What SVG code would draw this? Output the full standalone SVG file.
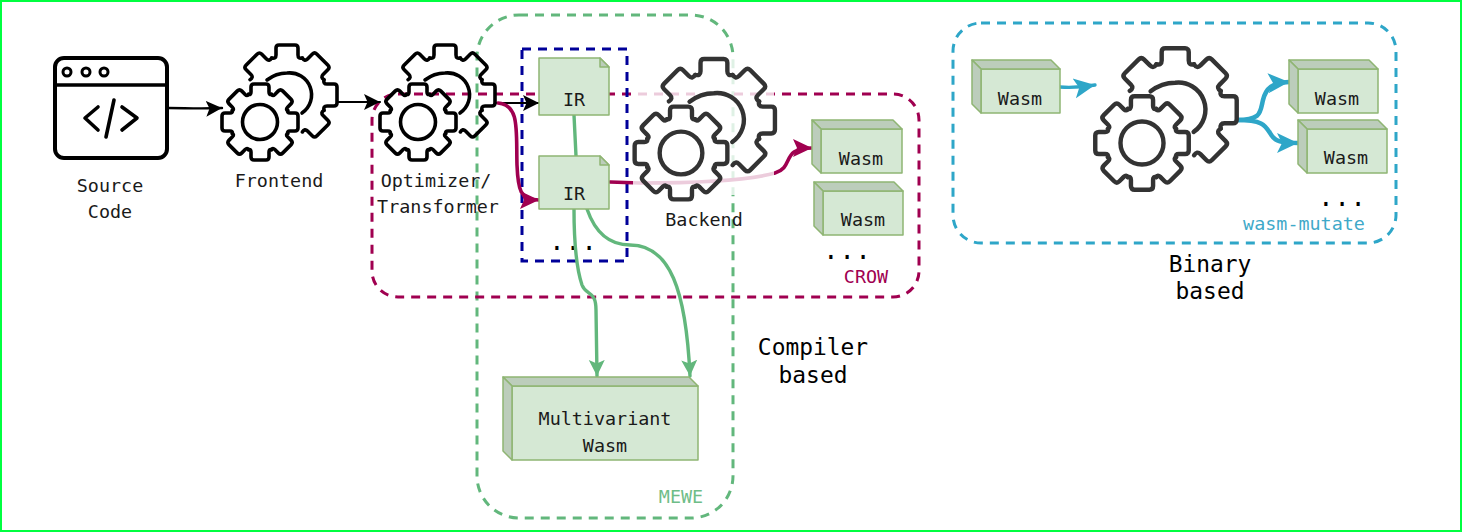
<svg xmlns="http://www.w3.org/2000/svg" xmlns:xlink="http://www.w3.org/1999/xlink" width="1462" height="532" viewBox="0 0 1462 532">
<style>
text{font-family:"DejaVu Sans Mono","Liberation Mono",monospace;font-size:18.4px;text-anchor:middle;fill:#1a1a1a}
.big{font-size:22.9px;fill:#000}
.dots{font-size:27px;font-family:"Liberation Mono",monospace;fill:#000}
.box{fill:none;stroke-width:3;stroke-dasharray:9 7}
.cn{fill:none;stroke-linecap:round}
.gear{fill:none;stroke-width:3.6;stroke-linecap:round;stroke-linejoin:round}
.face{fill:#d5e8d4;stroke:#8fb573;stroke-width:1.5;stroke-linejoin:round}
.dark{fill:#bccdbb;stroke:#8fb573;stroke-width:1.5;stroke-linejoin:round}
</style>
<defs>
<path id="ts" d="M-11.5,-27.7Q-9,-27-9,-30L-9,-35Q-9,-38-6,-38L6,-38Q9,-38 9,-35L9,-30Q9,-27 11.5,-27.7"/>
<path id="tl" d="M-15.3,-37Q-11,-36-11,-40L-11,-47Q-11,-50-8,-50L8,-50Q11,-50 11,-47L11,-40Q11,-36 15.3,-37"/>
<g id="gearIcon">
<use xlink:href="#ts"/><use xlink:href="#ts" transform="rotate(45)"/><use xlink:href="#ts" transform="rotate(90)"/><use xlink:href="#ts" transform="rotate(135)"/><use xlink:href="#ts" transform="rotate(180)"/><use xlink:href="#ts" transform="rotate(225)"/><use xlink:href="#ts" transform="rotate(270)"/><use xlink:href="#ts" transform="rotate(315)"/>
<circle r="17.5"/>
<g transform="translate(27,-27)">
<use xlink:href="#tl" transform="rotate(-45)"/><use xlink:href="#tl"/><use xlink:href="#tl" transform="rotate(45)"/><use xlink:href="#tl" transform="rotate(90)"/><use xlink:href="#tl" transform="rotate(135)"/>
<path d="M-20,-15Q-11,-22 0,-22A22,22 0 0 1 15,18"/>
</g>
</g>
<marker id="aK" markerUnits="userSpaceOnUse" markerWidth="20" markerHeight="20" refX="16" refY="10" orient="auto"><path d="M0,2L16,10L0,18L3.5,10Z" fill="#000"/></marker>
<marker id="aR" markerUnits="userSpaceOnUse" markerWidth="22" markerHeight="22" refX="19" refY="11" orient="auto"><path d="M0,2L19,11L0,20L4,11Z" fill="#a00050"/></marker>
<marker id="aG" markerUnits="userSpaceOnUse" markerWidth="20" markerHeight="20" refX="16" refY="10" orient="auto"><path d="M0,2L16,10L0,18L3.5,10Z" fill="#62b77c"/></marker>
<marker id="aT" markerUnits="userSpaceOnUse" markerWidth="24" markerHeight="24" refX="21" refY="12" orient="auto"><path d="M0,2L21,12L0,22L5,12Z" fill="#2ea6c8"/></marker>
</defs>
<rect width="1462" height="532" fill="#fff"/>
<rect x="1" y="1" width="1460" height="530" fill="none" stroke="#00ff40" stroke-width="2"/>

<g id="mewe-group"><rect class="box" x="477" y="15" width="256" height="503" rx="42" stroke="#62b77c"/><text x="681" y="503" style="fill:#6fbd88">MEWE</text></g>
<g id="crow-group"><rect class="box" x="372" y="94" width="547" height="203" rx="26" stroke="#a00050"/><text x="866" y="283" style="fill:#a00050">CROW</text></g>
<g id="ir-group"><rect class="box" x="522" y="49" width="105" height="212" stroke="#000099"/><text class="dots" x="573" y="250">...</text></g>
<g id="mutate-group"><rect class="box" x="953" y="23" width="443" height="220" rx="28" stroke="#2ea6c8"/><text x="1304" y="230" style="fill:#3fa9c9">wasm-mutate</text><text class="dots" x="1342" y="206">...</text></g>

<g id="connectors">
<path class="cn" stroke="#000" stroke-width="2.4" marker-end="url(#aK)" d="M168,108C185,108 200,109 222,108"/>
<path class="cn" stroke="#000" stroke-width="2.2" marker-end="url(#aK)" d="M337,102L380,102"/>
<path class="cn" stroke="#000" stroke-width="2.2" marker-end="url(#aK)" d="M497,103L539,103"/>
<path class="cn" stroke="#a00050" stroke-width="3.6" marker-end="url(#aR)" d="M498,103C520,105 516,130 517,165C518,190 520,200 539,200"/>
<path class="cn" stroke="#62b77c" stroke-width="3.4" d="M574,115L576,156L574,209C574,240 577,270 582,285C586,296 596,290 596,310L597,376" marker-end="url(#aG)"/>
<path class="cn" stroke="#62b77c" stroke-width="3.4" marker-end="url(#aG)" d="M587,209C596,235 612,245 630,245C670,245 686,290 690,376"/>
<path class="cn" stroke="#a00050" stroke-width="3.6" marker-end="url(#aR)" d="M610,182L640,183C700,183 750,180 775,173C795,167 780,148 812,148"/>
<path class="cn" stroke="#2ea6c8" stroke-width="3.4" marker-end="url(#aT)" d="M1060,87C1072,88 1083,87 1095,85"/>
<path class="cn" stroke="#2ea6c8" stroke-width="4.6" marker-end="url(#aT)" d="M1237,120C1262,120 1260,112 1263,100C1266,88 1272,83 1289,82"/>
<path class="cn" stroke="#2ea6c8" stroke-width="4.6" marker-end="url(#aT)" d="M1237,120C1262,120 1265,125 1270,133C1275,142 1282,143 1298,143"/>
</g>

<g id="source-code">
<rect x="55" y="58" width="112" height="100" rx="9" fill="none" stroke="#000" stroke-width="4"/>
<g fill="none" stroke="#000" stroke-linecap="round" stroke-linejoin="round"><path stroke-width="3.6" d="M55,85L167,85M98,107L85,118L98,130M122,107L137,118L122,130M114,100L106,137"/><circle cx="67" cy="72" r="4" stroke-width="3"/><circle cx="86" cy="72" r="4" stroke-width="3"/><circle cx="104" cy="72" r="4" stroke-width="3"/></g>
<text x="110" y="192">Source</text><text x="110" y="218">Code</text>
</g>
<g id="frontend"><use xlink:href="#gearIcon" class="gear" stroke="#000" transform="translate(260,122)"/><text x="279" y="187">Frontend</text></g>
<g id="optimizer"><use xlink:href="#gearIcon" class="gear" stroke="#000" transform="translate(418,122)"/><text x="436" y="187">Optimizer/</text><text x="438" y="213">Transformer</text></g>
<g id="ir-1"><path class="face" d="M539,58H600L609,67V115H539Z"/><path class="dark" d="M600,58L609,67H600Z"/><text x="574" y="106">IR</text></g>
<g id="ir-2"><path class="face" d="M539,156H600L609,165V209H539Z"/><path class="dark" d="M600,156L609,165H600Z"/><text x="574" y="200">IR</text></g>
<g id="backend"><rect x="633" y="58" width="141" height="137" fill="#fff" opacity=".8"/><use xlink:href="#gearIcon" class="gear" stroke="#333" transform="translate(681,153) scale(1.22)"/><text x="704" y="226">Backend</text></g>
<g id="crow-wasm-1"><path class="face" d="M821,129H902V173H821Z"/><path class="dark" d="M812,120H893L902,129H821Z"/><path class="dark" d="M812,120L821,129V173L812,164Z"/><text x="861" y="165">Wasm</text></g>
<g id="crow-wasm-2"><path class="face" d="M823,191H903V235H823Z"/><path class="dark" d="M814,182H894L903,191H823Z"/><path class="dark" d="M814,182L823,191V235L814,226Z"/><text x="863" y="226">Wasm</text></g>
<text class="dots" x="847" y="259">...</text>
<g id="multivariant"><path class="face" d="M512,386H698V460H512Z"/><path class="dark" d="M503,377H689L698,386H512Z"/><path class="dark" d="M503,377L512,386V460L503,451Z"/><text x="605" y="425">Multivariant</text><text x="605" y="452">Wasm</text></g>
<g id="mutate-in"><path class="face" d="M981,69H1060V113H981Z"/><path class="dark" d="M972,60H1051L1060,69H981Z"/><path class="dark" d="M972,60L981,69V113L972,104Z"/><text x="1020" y="105">Wasm</text></g>
<g id="mutate-gear"><use xlink:href="#gearIcon" class="gear" stroke="#333" transform="translate(1142,143) scale(1.23)"/></g>
<g id="mutate-out-1"><path class="face" d="M1298,69H1378V113H1298Z"/><path class="dark" d="M1289,60H1369L1378,69H1298Z"/><path class="dark" d="M1289,60L1298,69V113L1289,104Z"/><text x="1337" y="105">Wasm</text></g>
<g id="mutate-out-2"><path class="face" d="M1307,129H1387V173H1307Z"/><path class="dark" d="M1298,120H1378L1387,129H1307Z"/><path class="dark" d="M1298,120L1307,129V173L1298,164Z"/><text x="1346" y="164">Wasm</text></g>
<g id="labels"><text class="big" x="813" y="355">Compiler</text><text class="big" x="813" y="383">based</text><text class="big" x="1210" y="272">Binary</text><text class="big" x="1210" y="299">based</text></g>
</svg>
